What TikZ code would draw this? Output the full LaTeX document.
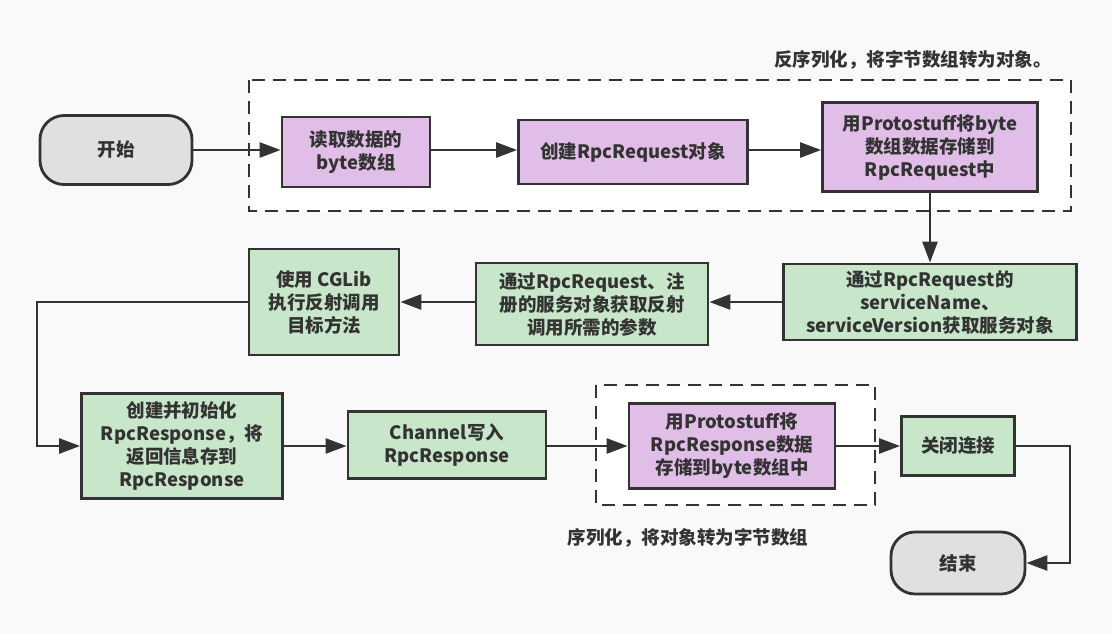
\documentclass[tikz,border=0pt]{standalone}
\usepackage{fontspec}
\setmainfont{Noto Sans CJK SC}
\usepackage{xcolor}
\usetikzlibrary{arrows.meta,positioning,calc,backgrounds}

\definecolor{ink}{HTML}{333333}
\definecolor{bgcol}{HTML}{F9F9F9}
\definecolor{greenfill}{HTML}{C8E6C9}
\definecolor{purplefill}{HTML}{E1BEE7}
\definecolor{grayfill}{HTML}{E0E0E0}

\begin{document}
\begin{tikzpicture}[x=1pt,y=-1pt]
    % Define styles
    \tikzstyle{box}=[draw=ink,line width=2.8pt,text=ink,align=center,inner sep=2pt,
        font=\fontsize{18.5}{23}\selectfont\bfseries]
    \tikzstyle{terminal}=[box,fill=grayfill,rounded corners=24pt]
    \tikzstyle{greenbox}=[box,fill=greenfill]
    \tikzstyle{purplebox}=[box,fill=purplefill]
    \tikzstyle{group}=[draw=ink,fill=white,line width=2.8pt,dash pattern=on 13pt off 8pt]
    \tikzstyle{flow}=[draw=ink,line width=2.6pt,-{Triangle[length=21pt,width=15pt]}]
    \tikzstyle{note}=[text=ink,font=\fontsize{18.5}{23}\selectfont\bfseries]

    % Background and dashed groups
    \fill[bgcol] (0,0) rectangle (1112,633);
    \useasboundingbox (0,0) rectangle (1112,633);
    \draw[group] (249,80) rectangle (1071,211);
    \draw[group] (596,385) rectangle (875,505);
    \node[note] (denote) at (913,60) {反序列化，将字节数组转为对象。};
    \node[note] (sernote) at (688,538) {序列化，将对象转为字节数组};

    % First row: deserialisation
    \node[terminal,minimum width=152pt,minimum height=69pt] (start) at (116,150) {开始};
    \node[purplebox,minimum width=148pt,minimum height=70pt] (read) at (356,152) {读取数据的\\byte数组};
    \node[purplebox,minimum width=229pt,minimum height=64pt] (create) at (633,152) {创建RpcRequest对象};
    \node[purplebox,minimum width=215pt,minimum height=89pt] (proto) at (930,147) {用Protostuff将byte\\数组数据存储到\\RpcRequest中};

    % Second row: reflection
    \node[greenbox,minimum width=293pt,minimum height=76pt] (service) at (930,302) {通过RpcRequest的\\serviceName、\\serviceVersion获取服务对象};
    \node[greenbox,minimum width=232pt,minimum height=82pt] (params) at (592,304) {通过RpcRequest、注\\册的服务对象获取反射\\调用所需的参数};
    \node[greenbox,minimum width=150pt,minimum height=106pt] (cglib) at (324,302) {使用 CGLib\\执行反射调用\\目标方法};

    % Third row: serialisation
    \node[greenbox,minimum width=201pt,minimum height=105pt] (resp) at (182,446) {创建并初始化\\RpcResponse，将\\返回信息存到\\RpcResponse};
    \node[greenbox,minimum width=198pt,minimum height=67pt] (channel) at (447,445) {Channel写入\\RpcResponse};
    \node[purplebox,minimum width=206pt,minimum height=85pt] (protoresp) at (732,446) {用Protostuff将\\RpcResponse数据\\存储到byte数组中};
    \node[greenbox,minimum width=113pt,minimum height=59pt] (close) at (958,446) {关闭连接};
    \node[terminal,minimum width=134pt,minimum height=62pt] (end) at (958,563) {结束};

    % Connections
    \coordinate (leftbend) at (37,302);
    \coordinate (rightbend) at (1070,446);
    \draw[flow] (start.east) -- (start.east -| read.west);
    \draw[flow] (read.east |- start.east) -- (start.east -| create.west);
    \draw[flow] (create.east |- start.east) -- (start.east -| proto.west);
    \draw[flow] (proto.south) -- (service.north);
    \draw[flow] (service.west) -- (service.west -| params.east);
    \draw[flow] (params.west |- service.west) -- (service.west -| cglib.east);
    \draw[flow] (cglib.west |- service.west) -- (leftbend) |- (resp.west);
    \draw[flow] (resp.east) -- (resp.east -| channel.west);
    \draw[flow] (channel.east |- resp.east) -- (resp.east -| protoresp.west);
    \draw[flow] (protoresp.east) -- (close.west);
    \draw[flow] (close.east) -- (rightbend) |- (end.east);
\end{tikzpicture}
\end{document}
